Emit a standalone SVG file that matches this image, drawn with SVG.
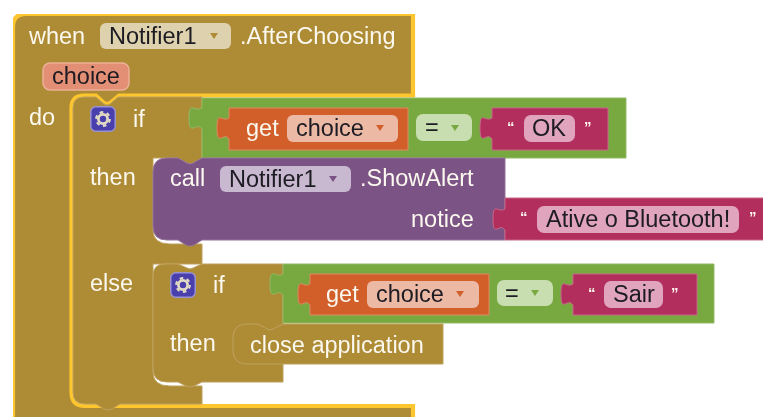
<svg xmlns="http://www.w3.org/2000/svg" width="763" height="417" viewBox="0 0 763 417">
<style>
text{font-family:"Liberation Sans",Arial,sans-serif;font-size:23.5px}
.w{fill:#fbf8ef}.d{fill:#1c1a22}
.q{font-size:15px;font-weight:bold;fill:#fbf8ef}
.br{fill:#ae8b35;stroke:#bea25f;stroke-width:1}
.gn{fill:#78a841;stroke:#93ba67;stroke-width:1}
.or{fill:#d25f2c;stroke:#dd8a63;stroke-width:1}
.pk{fill:#b22d5d;stroke:#c8688a;stroke-width:1}
.pu{fill:#7c5385;stroke:#937399;stroke-width:1}
.fo{fill:#ecb9a5}.fg{fill:#c8deb0}.fp{fill:#e0a4bc}.fb{fill:#ded2ae}.fu{fill:#c9b9d0}
</style>
<defs>
<filter id="soft" x="0" y="0" width="100%" height="100%"><feGaussianBlur stdDeviation="0.4"/></filter>
<symbol id="gear" viewBox="0 0 26 26" width="26" height="26">
<rect x="0.75" y="0.75" width="24.5" height="24.5" rx="5" fill="#4a3fae" stroke="#9a93d2" stroke-width="1.5"/>
<circle cx="13" cy="13" r="4.6" fill="none" stroke="#e2dbc3" stroke-width="2.8"/>
<circle cx="13" cy="13" r="6.8" fill="none" stroke="#e2dbc3" stroke-width="2.2" stroke-dasharray="3.6 3.52"/>
</symbol>
</defs>
<g filter="url(#soft)">
<g id="when-block">
<path d="M13,420V27Q13,14 26,14H413V95.5H119L110,103Q107,105 104,103L96,95.5H84Q71.5,95.5 71.5,108V392Q71.5,406 85,406H413V420Z" fill="#ae8b35" stroke="#fdc52e" stroke-width="4.2"/>
<text class="w" x="29" y="44">when</text>
<rect class="fb" x="100" y="23" width="131" height="26" rx="6"/>
<text class="d" x="109" y="44">Notifier1</text>
<polygon points="210,33 218,33 214,39" fill="#ae8b35"/>
<text class="w" x="240" y="44">.AfterChoosing</text>
<rect x="43" y="63" width="86" height="27" rx="7" fill="#e28f74" stroke="#ecb097" stroke-width="1.5"/>
<text class="d" x="52" y="84">choice</text>
<text class="w" x="29" y="125">do</text>
</g>
<g id="if-outer">
<path class="br" d="M73,108Q73,97 84,97H96L104,104Q107,106 110,104L118,97H202V158L193,163Q190,165 187,163L178,158H153V230Q153,244 170,244H202V264H153V372Q153,386 170,386H202V404H120L112,409Q108,411 104,409L96,404H85Q73,404 73,392Z"/>
<use href="#gear" x="90" y="106"/>
<text class="w" x="133" y="127">if</text>
<text class="w" x="90" y="185">then</text>
<text class="w" x="90" y="291">else</text>
</g>
<g id="compare-1">
<path class="gn" d="M202,98H626V158H202V129c-3,-4 -6,-2 -9,-1c-3,1 -4,-2 -4,-10c0,-8 1,-11 4,-10c3,1 6,2 9,0Z"/>
</g>
<g id="get-1">
<path class="or" d="M229,108H408V150H229V139c-3,-4 -5,-2 -8,-1c-3,1 -4,-2 -4,-10c0,-8 1,-11 4,-10c3,1 5,2 8,0Z"/>
<text class="w" x="246" y="136">get</text>
<rect class="fo" x="287" y="115" width="111" height="27" rx="6"/>
<text class="d" x="296" y="136">choice</text>
<polygon points="376,125 384,125 380,131" fill="#d25f2c"/>
</g>
<g id="op-1">
<rect class="fg" x="416" y="114" width="56" height="27" rx="7"/>
<text class="d" x="425" y="135">=</text>
<polygon points="451,125 459,125 455,131" fill="#78a841"/>
</g>
<g id="text-ok">
<path class="pk" d="M492,108H608V150H492V139c-3,-4 -5,-2 -8,-1c-3,1 -4,-2 -4,-10c0,-8 1,-11 4,-10c3,1 5,2 8,0Z"/>
<text class="q" x="507" y="132">“</text>
<rect class="fp" x="524" y="115" width="51" height="27" rx="7"/>
<text class="d" x="532" y="136">OK</text>
<text class="q" x="584" y="132">”</text>
</g>
<g id="call-alert">
<path class="pu" d="M153,172Q153,158 167,158H178L187,163Q190,165 193,163L202,158H505V240H202L194,245Q190,247 186,245L178,240H167Q153,240 153,226Z"/>
<text class="w" x="170" y="186">call</text>
<rect class="fu" x="220" y="166" width="131" height="26" rx="6"/>
<text class="d" x="229" y="187">Notifier1</text>
<polygon points="329,176 337,176 333,182" fill="#7c5385"/>
<text class="w" x="360" y="186">.ShowAlert</text>
<text class="w" x="411" y="227">notice</text>
</g>
<g id="text-alert">
<path class="pk" d="M505,198H770V240H505V230c-3,-4 -5,-2 -8,-1c-3,1 -4,-2 -4,-10c0,-8 1,-11 4,-10c3,1 5,2 8,0Z"/>
<text class="q" x="520" y="222">“</text>
<rect class="fp" x="537" y="206" width="202" height="27" rx="7"/>
<text class="d" x="546" y="227">Ative o Bluetooth!</text>
<text class="q" x="749" y="222">”</text>
</g>
<g id="if-inner">
<path class="br" d="M153,276Q153,264 165,264H178L187,268Q190,270 193,268L202,264H283V382H202L194,386Q190,388 186,386L178,382H167Q153,382 153,368Z"/>
<use href="#gear" x="170" y="272"/>
<text class="w" x="213" y="293">if</text>
<text class="w" x="170" y="351">then</text>
</g>
<g id="compare-2">
<path class="gn" d="M283,264H714V323H283V295c-3,-4 -6,-2 -9,-1c-3,1 -4,-2 -4,-10c0,-8 1,-11 4,-10c3,1 6,2 9,0Z"/>
</g>
<g id="get-2">
<path class="or" d="M310,274H489V315H310V305c-3,-4 -5,-2 -8,-1c-3,1 -4,-2 -4,-10c0,-8 1,-11 4,-10c3,1 5,2 8,0Z"/>
<text class="w" x="326" y="302">get</text>
<rect class="fo" x="367" y="281" width="112" height="27" rx="6"/>
<text class="d" x="376" y="302">choice</text>
<polygon points="456,291 464,291 460,297" fill="#d25f2c"/>
</g>
<g id="op-2">
<rect class="fg" x="497" y="280" width="56" height="26" rx="7"/>
<text class="d" x="505" y="301">=</text>
<polygon points="531,290 539,290 535,296" fill="#78a841"/>
</g>
<g id="text-sair">
<path class="pk" d="M573,274H697V315H573V305c-3,-4 -5,-2 -8,-1c-3,1 -4,-2 -4,-10c0,-8 1,-11 4,-10c3,1 5,2 8,0Z"/>
<text class="q" x="588" y="298">“</text>
<rect class="fp" x="604" y="281" width="59" height="27" rx="7"/>
<text class="d" x="613" y="302">Sair</text>
<text class="q" x="671" y="298">”</text>
</g>
<g id="close-app">
<path class="br" d="M233,338Q233,324 247,324H258L267,329Q270,331 273,329L283,324H443V364H247Q233,364 233,350Z"/>
<text class="w" x="250" y="353">close application</text>
</g>
</g>
</svg>
